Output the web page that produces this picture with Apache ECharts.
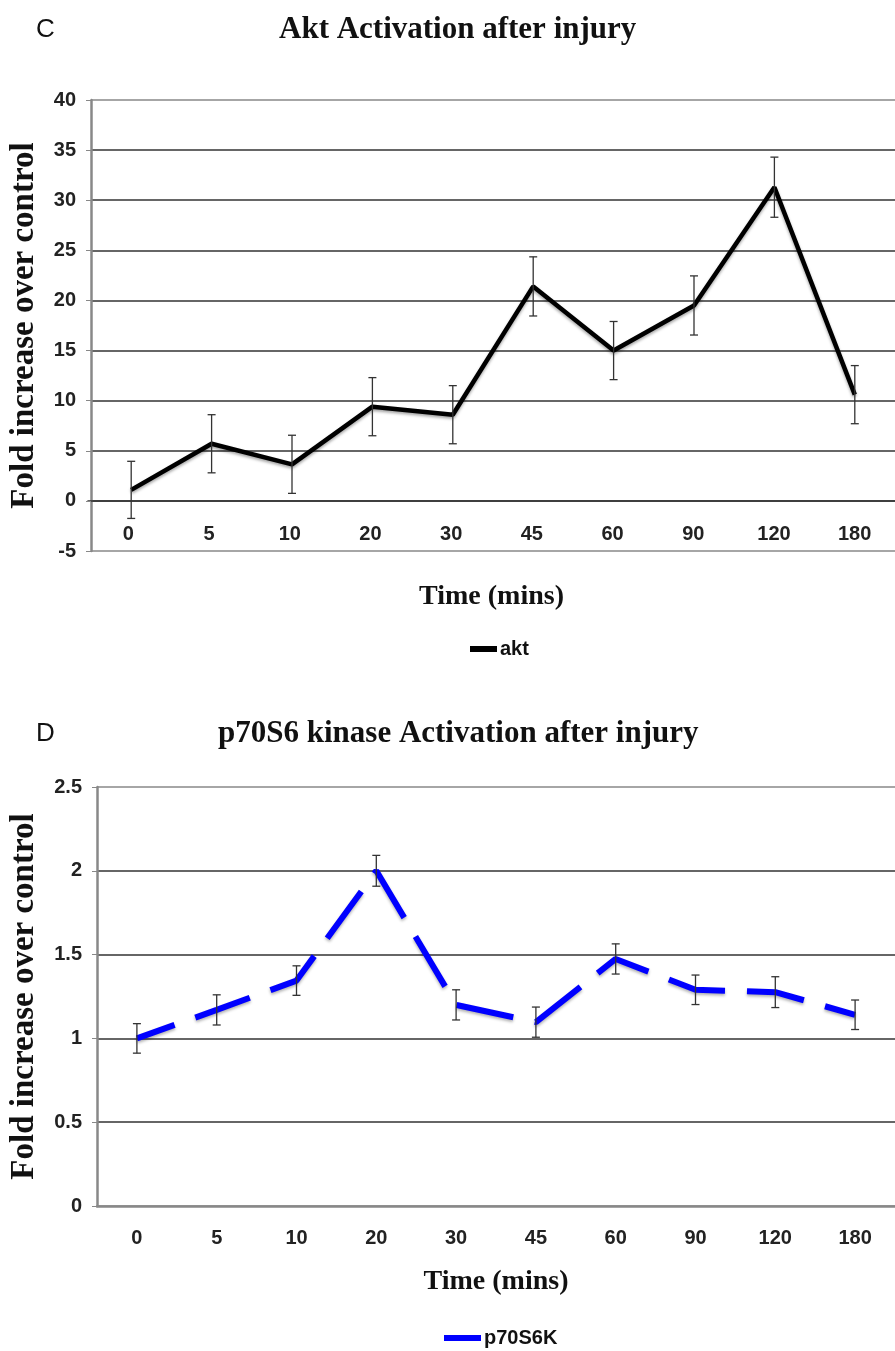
<!DOCTYPE html>
<html>
<head>
<meta charset="utf-8">
<script src="https://cdn.jsdelivr.net/npm/echarts@6/dist/echarts.min.js"></script>
<style>
  html, body { margin: 0; padding: 0; background: #fff; }
  #main { width: 895px; height: 1351px; }
</style>
</head>
<body>
<div id="main"></div>
<script>
// time points (mins)
var times = ['0', '5', '10', '20', '30', '45', '60', '90', '120', '180'];
// panel C - akt
var akt = [1.1, 5.7, 3.65, 9.4, 8.6, 21.4, 15.0, 19.5, 31.3, 10.6];
var aktErr = [2.85, 2.9, 2.9, 2.9, 2.9, 2.95, 2.9, 2.95, 3.0, 2.9];
// panel D - p70S6K
var p70 = [1.0, 1.17, 1.345, 2.0, 1.2, 1.097, 1.474, 1.29, 1.276, 1.141];
var p70Err = [0.088, 0.09, 0.088, 0.092, 0.09, 0.09, 0.09, 0.088, 0.092, 0.088];

var sans = 'Liberation Sans';
var serif = 'Liberation Serif';

function errData(vals, errs){
	return vals.map(function(v, i){
		return [i, v - errs[i], v + errs[i]];
	});
}

/**
 * 误差线
 */
function errBar(params, api){
	var lo = api.coord([api.value(0), api.value(1)]);
	var hi = api.coord([api.value(0), api.value(2)]);
	var w = 4;
	var st = { stroke: '#333', lineWidth: 1.3 };
	return {
		type: 'group',
		children: [
			{ type: 'line', shape: { x1: lo[0], y1: lo[1], x2: hi[0], y2: hi[1] }, style: st },
			{ type: 'line', shape: { x1: lo[0] - w, y1: lo[1], x2: lo[0] + w, y2: lo[1] }, style: st },
			{ type: 'line', shape: { x1: hi[0] - w, y1: hi[1], x2: hi[0] + w, y2: hi[1] }, style: st }
		]
	};
}

var tickLabel = { fontFamily: sans, fontWeight: 'bold', fontSize: 20, color: '#222' };
var nameFont = { fontFamily: serif, fontWeight: 'bold', fontSize: 28, color: '#111' };
var yNameFont = { fontFamily: serif, fontWeight: 'bold', fontSize: 33, color: '#111' };

var myChart = echarts.init(document.getElementById('main'));
var option = {
	backgroundColor: '#fff',
	animation: false,
	title: [
		{ text: 'C', left: 31, top: 12, textStyle: { fontFamily: sans, fontWeight: 'normal', fontSize: 26, color: '#111' } },
		{ text: 'Akt Activation after injury', left: 274, top: 9, textStyle: { fontFamily: serif, fontWeight: 'bold', fontSize: 31, color: '#111' } },
		{ text: 'D', left: 31, top: 716, textStyle: { fontFamily: sans, fontWeight: 'normal', fontSize: 26, color: '#111' } },
		{ text: 'p70S6 kinase Activation after injury', left: 213, top: 713, textStyle: { fontFamily: serif, fontWeight: 'bold', fontSize: 31, color: '#111' } }
	],
	legend: [
		{
			data: ['akt'], left: 465, top: 634, icon: 'rect', itemWidth: 27, itemHeight: 6,
			textStyle: { fontFamily: sans, fontWeight: 'bold', fontSize: 20, color: '#111', padding: [0, 0, 0, -2] }
		},
		{
			data: ['p70S6K'], left: 439, top: 1323, icon: 'rect', itemWidth: 37, itemHeight: 6,
			textStyle: { fontFamily: sans, fontWeight: 'bold', fontSize: 20, color: '#111', padding: [0, 0, 0, -2] }
		}
	],
	grid: [
		{ left: 88, top: 100, width: 813, height: 451 },
		{ left: 95, top: 787, width: 806, height: 419 },
		// C 的横轴放在 0 刻度线上
		{ left: 88, top: 100, width: 813, height: 401 }
	],
	xAxis: [
		{ gridIndex: 0, type: 'category', data: times, show: false },
		{
			gridIndex: 1, type: 'category', data: times,
			name: 'Time (mins)', nameLocation: 'middle', nameGap: 62, nameTextStyle: nameFont,
			axisLine: { lineStyle: { color: '#888', width: 2.5 } },
			axisTick: { length: 5, lineStyle: { color: '#666', width: 1.2 } },
			axisLabel: Object.assign({ margin: 22 }, tickLabel),
			splitLine: { show: false }
		},
		{
			gridIndex: 2, type: 'category', data: times,
			name: 'Time (mins)', nameLocation: 'middle', nameGap: 82, nameTextStyle: nameFont,
			axisLine: { lineStyle: { color: '#333', width: 1.6 } },
			axisTick: { length: 5, lineStyle: { color: '#333', width: 1.2 } },
			axisLabel: Object.assign({ margin: 23 }, tickLabel),
			splitLine: { show: false }
		}
	],
	yAxis: [
		{
			gridIndex: 0, type: 'value', min: -5, max: 40, interval: 5,
			name: 'Fold increase over control', nameLocation: 'middle', nameGap: 50, nameTextStyle: yNameFont,
			axisLine: { show: true, lineStyle: { color: '#888', width: 2.5 } },
			axisTick: { show: true, length: 5, lineStyle: { color: '#888' } },
			axisLabel: Object.assign({ margin: 15 }, tickLabel),
			splitLine: { show: true, lineStyle: { color: ['#888', '#333', '#333', '#333', '#333', '#333', '#333', '#333', '#333', '#888'], width: 1.6 } }
		},
		{
			gridIndex: 1, type: 'value', min: 0, max: 2.5, interval: 0.5,
			name: 'Fold increase over control', nameLocation: 'middle', nameGap: 56, nameTextStyle: yNameFont,
			axisLine: { show: true, lineStyle: { color: '#888', width: 2.5 } },
			axisTick: { show: true, length: 5, lineStyle: { color: '#888' } },
			axisLabel: Object.assign({ margin: 15 }, tickLabel),
			splitLine: { show: true, lineStyle: { color: ['#888', '#333', '#333', '#333', '#333', '#888'], width: 1.6 } }
		},
		{ gridIndex: 2, type: 'value', min: 0, max: 1, show: false }
	],
	series: [
		{
			name: 'akt', type: 'line', xAxisIndex: 0, yAxisIndex: 0,
			data: akt, symbol: 'none', color: '#000',
			lineStyle: { color: '#000', width: 4.5, shadowColor: 'rgba(0,0,0,0.35)', shadowBlur: 3, shadowOffsetY: 2 },
			z: 3
		},
		{
			name: 'aktErr', type: 'custom', xAxisIndex: 0, yAxisIndex: 0,
			data: errData(akt, aktErr), renderItem: errBar,
			encode: { x: 0, y: [1, 2] }, silent: true, z: 4
		},
		{
			name: 'p70S6K', type: 'line', xAxisIndex: 1, yAxisIndex: 1,
			data: p70, symbol: 'none', color: '#0000ff',
			lineStyle: { color: '#0000ff', width: 6, type: [58, 22], dashOffset: 18, cap: 'butt', shadowColor: 'rgba(0,0,0,0.3)', shadowBlur: 3, shadowOffsetY: 2 },
			z: 3
		},
		{
			name: 'p70Err', type: 'custom', xAxisIndex: 1, yAxisIndex: 1,
			data: errData(p70, p70Err), renderItem: errBar,
			encode: { x: 0, y: [1, 2] }, silent: true, z: 4
		}
	]
};
myChart.setOption(option);
</script>
</body>
</html>
